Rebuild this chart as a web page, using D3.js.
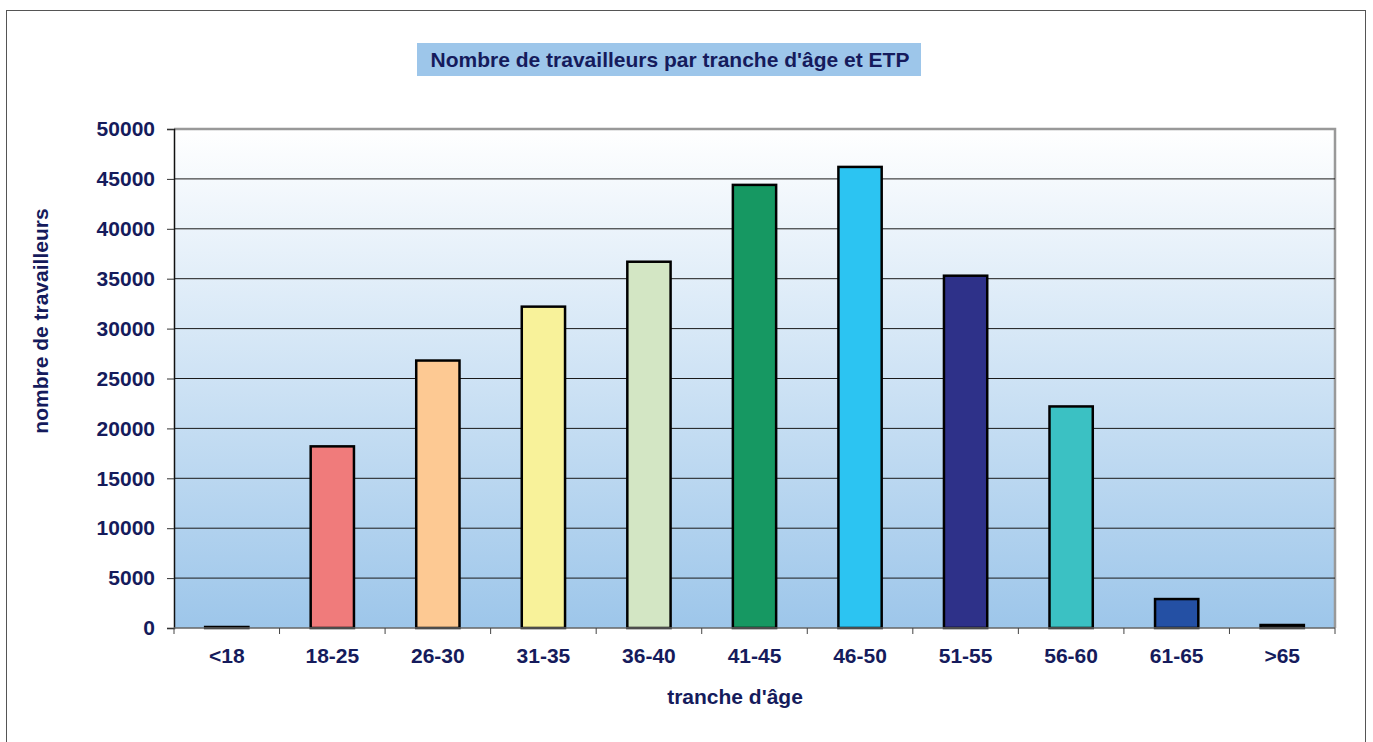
<!DOCTYPE html>
<html>
<head>
<meta charset="utf-8">
<script src="https://cdn.jsdelivr.net/npm/d3@7"></script>
<style>
  body { margin: 0; background: #fff; }
  text { font-family: "Liberation Sans", Arial, sans-serif; font-weight: bold; fill: #151b5c; }
</style>
</head>
<body>
<svg id="chart" width="1373" height="742"></svg>
<script>
// tranches d'âge et nombre de travailleurs
var categories = ["<18", "18-25", "26-30", "31-35", "36-40", "41-45", "46-50", "51-55", "56-60", "61-65", ">65"];
var values = [100, 18200, 26800, 32200, 36700, 44400, 46200, 35300, 22200, 2900, 300];
var barColors = ["#1a1a1a", "#f07b7b", "#fdc993", "#f8f29a", "#d3e6c4", "#169862", "#2cc4f2", "#2e3189", "#3bc1c3", "#2450a4", "#1a1a1a"];
var yTicks = [0, 5000, 10000, 15000, 20000, 25000, 30000, 35000, 40000, 45000, 50000];

var svg = d3.select("#chart");
var margin = { top: 129, left: 174, right: 38, bottom: 114 };
var width = 1373 - margin.left - margin.right,
    height = 742 - margin.top - margin.bottom;
var fs = "21px";

// cadre extérieur
svg.append("rect")
    .attr("x", 6.5).attr("y", 10.5)
    .attr("width", 1359).attr("height", 760)
    .attr("fill", "none").attr("stroke", "#555").attr("stroke-width", 1);

// dégradé de fond
var grad = svg.append("defs").append("linearGradient")
    .attr("id", "bg").attr("x1", 0).attr("y1", 0).attr("x2", 0).attr("y2", 1);
grad.append("stop").attr("offset", "0%").attr("stop-color", "#ffffff");
grad.append("stop").attr("offset", "100%").attr("stop-color", "#9dc6ea");

var g = svg.append("g")
    .attr("transform", "translate(" + margin.left + "," + margin.top + ")");

var x = d3.scaleBand()
    .domain(categories)
    .range([0, width])
    .paddingInner(0.59)
    .paddingOuter(0.295);

var xAxisScale = d3.scaleBand().domain(categories).range([0, width]);

var y = d3.scaleLinear()
    .domain([0, 50000])
    .range([height, 0]);

g.append("rect")
    .attr("width", width).attr("height", height)
    .attr("fill", "url(#bg)");

// bordure grise haut / droite
g.append("path")
    .attr("d", "M0,0H" + width + "V" + height)
    .attr("fill", "none").attr("stroke", "#999").attr("stroke-width", 2.5);

// lignes de grille
g.selectAll(".grid")
    .data(yTicks.filter(function(d) { return d > 0 && d < 50000; }))
    .enter().append("line")
    .attr("x1", 0).attr("x2", width)
    .attr("y1", function(d) { return y(d); })
    .attr("y2", function(d) { return y(d); })
    .attr("stroke", "#1a1a1a").attr("stroke-width", 1);

// barres
g.selectAll(".bar")
    .data(values)
    .enter().append("rect")
    .attr("class", "bar")
    .attr("x", function(d, i) { return x(categories[i]); })
    .attr("y", function(d) { return y(d); })
    .attr("width", x.bandwidth())
    .attr("height", function(d) { return height - y(d); })
    .attr("fill", function(d, i) { return barColors[i]; })
    .attr("stroke", "#000").attr("stroke-width", 2.5);

// axe y
var yAxis = g.append("g")
    .call(d3.axisLeft(y).tickValues(yTicks).tickSize(7).tickPadding(12).tickFormat(d3.format("d")));
yAxis.select(".domain").attr("stroke", "#111").attr("stroke-width", 1.5);
yAxis.selectAll(".tick line").attr("stroke", "#333");
yAxis.selectAll("text")
    .style("font-size", fs).style("font-family", "'Liberation Sans', Arial, sans-serif")
    .style("font-weight", "bold").attr("fill", "#151b5c");

// axe x
var xAxisG = g.append("g")
    .attr("transform", "translate(0," + height + ")");
xAxisG.append("line")
    .attr("x1", 0).attr("x2", width)
    .attr("stroke", "#666").attr("stroke-width", 1.5);
xAxisG.selectAll(".xtick")
    .data(categories.concat(["end"]))
    .enter().append("line")
    .attr("x1", function(d, i) { return i < categories.length ? xAxisScale(d) : width; })
    .attr("x2", function(d, i) { return i < categories.length ? xAxisScale(d) : width; })
    .attr("y1", 0).attr("y2", 6)
    .attr("stroke", "#444");
xAxisG.selectAll(".xlabel")
    .data(categories)
    .enter().append("text")
    .attr("x", function(d) { return xAxisScale(d) + xAxisScale.bandwidth() / 2; })
    .attr("y", 35)
    .attr("text-anchor", "middle")
    .style("font-size", fs)
    .text(function(d) { return d; });

// titres d'axes
svg.append("text")
    .attr("x", 735).attr("y", 704)
    .attr("text-anchor", "middle")
    .style("font-size", fs)
    .text("tranche d'âge");

svg.append("text")
    .attr("transform", "translate(48,321) rotate(-90)")
    .attr("text-anchor", "middle")
    .style("font-size", fs)
    .text("nombre de travailleurs");

// titre
svg.append("rect")
    .attr("x", 417).attr("y", 43)
    .attr("width", 504).attr("height", 33)
    .attr("fill", "#9dc6ea");
svg.append("text")
    .attr("x", 670).attr("y", 67)
    .attr("text-anchor", "middle")
    .style("font-size", fs)
    .text("Nombre de travailleurs par tranche d'âge et ETP");
</script>
</body>
</html>
